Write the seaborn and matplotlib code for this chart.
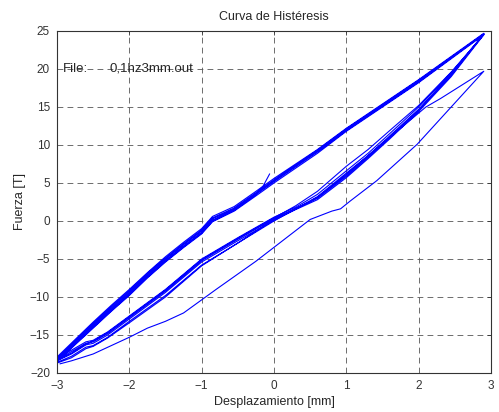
import numpy as np
import pandas as pd
import matplotlib
matplotlib.use("Agg")
import matplotlib.pyplot as plt
import seaborn as sns

# primer ciclo (curva fina inferior), subiendo
first_up_x = [-2.96, -2.8, -2.5, -2.0, -1.75, -1.5, -1.25, -0.8, -0.25, 0.5, 0.8, 0.92, 1.05, 1.42, 1.98, 2.9]
first_up_f = [-18.8, -18.4, -17.5, -15.3, -14.1, -13.2, -12.1, -9.0, -5.3, 0.2, 1.3, 1.6, 2.6, 5.3, 10.1, 19.7]

# bajada del primer ciclo (sale de 19.7 y se une a la rama inferior)
first_down_x = [2.9, 2.6, 2.3, 2.1, 1.9, 1.6, 1.3, 1.0, 0.6, 0.3, 0.0, -0.5, -1.0, -1.5, -2.0, -2.3, -2.5, -2.6, -2.8, -3.0]
first_down_f = [19.7, 17.9, 16.1, 15.0, 13.4, 11.0, 8.6, 6.3, 3.2, 1.6, 0.0, -2.9, -5.9, -10.0, -13.4, -15.4, -16.5, -16.8, -18.0, -18.7]

# rama superior (subida) de los ciclos
up_x = [-3.0, -2.75, -2.5, -2.25, -2.0, -1.75, -1.5, -1.25, -1.0, -0.85, -0.55, -0.25, 0.0, 0.6, 1.0, 2.0, 2.9]
up_f1 = [-18.2, -15.9, -13.7, -11.5, -9.4, -7.1, -5.0, -3.1, -1.3, 0.3, 1.6, 3.6, 5.3, 9.2, 12.0, 18.4, 24.6]
up_f2 = [-18.5, -16.3, -14.1, -11.9, -9.8, -7.5, -5.4, -3.5, -1.7, -0.1, 1.3, 3.3, 5.0, 8.9, 11.8, 18.2, 24.5]
up_f3 = [-17.9, -15.6, -13.3, -11.1, -9.0, -6.8, -4.7, -2.8, -1.0, 0.6, 1.9, 3.9, 5.6, 9.4, 12.2, 18.6, 24.7]
up_f4 = [-18.3, -16.1, -13.9, -11.7, -9.6, -7.3, -5.2, -3.3, -1.5, 0.1, 1.5, 3.5, 5.2, 9.1, 11.9, 18.3, 24.6]
up_f5 = [-18.1, -15.8, -13.5, -11.3, -9.2, -6.9, -4.9, -3.0, -1.2, 0.4, 1.7, 3.7, 5.4, 9.3, 12.1, 18.5, 24.6]

# ultima subida, termina cerca de x=0
last_up_x = [-3.0, -2.75, -2.5, -2.25, -2.0, -1.75, -1.5, -1.25, -1.0, -0.85, -0.55, -0.25, -0.15, -0.06]
last_up_f = [-18.4, -16.2, -14.0, -11.8, -9.7, -7.4, -5.3, -3.4, -1.6, 0.0, 1.4, 3.5, 4.6, 6.2]

# rama inferior (bajada) de los ciclos
down_x = [2.9, 2.45, 2.0, 1.6, 1.3, 1.0, 0.6, 0.3, 0.0, -0.5, -1.0, -1.5, -2.0, -2.3, -2.5, -2.6, -2.8, -3.0]
down_f1 = [24.6, 19.2, 14.6, 11.0, 8.4, 5.9, 3.0, 1.6, 0.3, -2.4, -5.2, -9.2, -12.7, -14.8, -15.9, -16.1, -17.2, -18.2]
down_f2 = [24.5, 19.0, 14.4, 10.8, 8.2, 5.7, 2.8, 1.5, 0.1, -2.6, -5.4, -9.4, -12.9, -15.0, -16.1, -16.3, -17.5, -18.4]
down_f3 = [24.6, 19.5, 15.0, 11.5, 8.9, 6.6, 3.5, 1.8, 0.5, -2.2, -5.0, -9.0, -12.5, -14.6, -15.7, -15.9, -17.0, -18.0]
down_f4 = [24.6, 19.3, 14.7, 11.2, 8.6, 6.1, 3.1, 1.6, 0.2, -2.9, -5.8, -9.8, -13.2, -15.3, -16.4, -16.6, -17.8, -18.6]
down_f5 = [24.5, 19.6, 15.2, 11.9, 9.4, 7.2, 3.9, 2.0, 0.4, -2.3, -5.1, -9.1, -12.6, -14.7, -15.8, -16.2, -17.4, -18.3]

tramos = [
    (first_up_x, first_up_f),
    (first_down_x, first_down_f),
    (up_x, up_f1), (down_x, down_f1),
    (up_x, up_f2), (down_x, down_f2),
    (up_x, up_f3), (down_x, down_f3),
    (up_x, up_f4), (down_x, down_f4),
    (up_x, up_f5), (down_x, down_f5),
    (last_up_x, last_up_f),
]

# todo en un solo trazo continuo
xs = []
fs = []
for tx, tf in tramos:
    xs += list(tx)
    fs += list(tf)
df = pd.DataFrame({"desp": xs, "fuerza": fs})

sns.set_style("white")
plt.rcParams["font.family"] = ["Liberation Sans", "DejaVu Sans"]

fig = plt.figure(figsize=(4.99, 4.12), dpi=100)
ax = fig.add_axes([0.1142, 0.0947, 0.8698, 0.8301])

sns.lineplot(data=df, x="desp", y="fuerza", sort=False, estimator=None,
             color="blue", lw=0.8, ax=ax, legend=False)

ax.set_xlim(-3, 3)
ax.set_ylim(-20, 25)
ax.set_xticks(range(-3, 4))
ax.set_yticks(range(-20, 26, 5))
ax.grid(True, color="#555555", lw=0.6, linestyle=(0, (7, 5)))
ax.set_axisbelow(True)
for s in ax.spines.values():
    s.set_color("#333333")
    s.set_linewidth(0.8)
ax.tick_params(direction="in", length=3, width=0.6, top=True, right=True,
               labelsize=8.5, labelcolor="#333333", color="#333333", pad=5)

ax.set_title("Curva de Histéresis", fontsize=9, pad=8)
ax.set_xlabel("Desplazamiento [mm]", fontsize=9, labelpad=3)
ax.set_ylabel("Fuerza [T]", fontsize=9, labelpad=3)

ax.text(-2.92, 20, "File:", fontsize=9.5, va="center", ha="left")
ax.text(-2.27, 20, "0,1hz3mm.out", fontsize=9.5, va="center", ha="left")

fig.savefig("out.png", dpi=100, facecolor="white")
